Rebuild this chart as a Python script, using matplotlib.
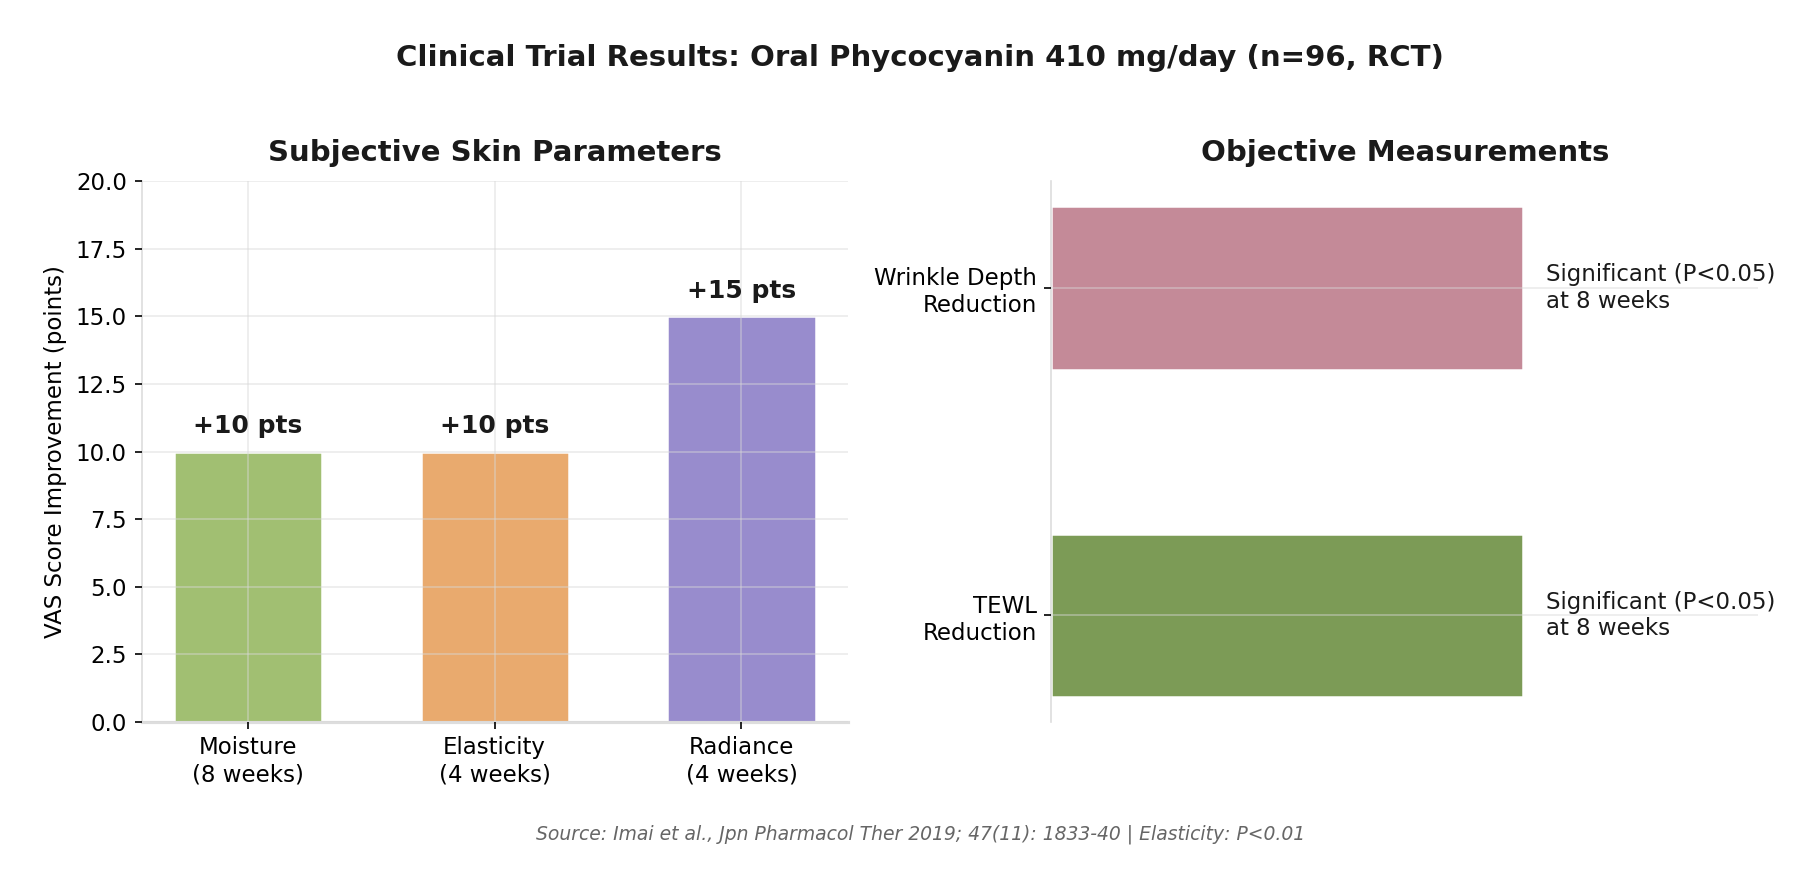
import matplotlib
matplotlib.use("Agg")
import matplotlib.pyplot as plt

# Data
left_categories = ["Moisture\n(8 weeks)", "Elasticity\n(4 weeks)", "Radiance\n(4 weeks)"]
left_values = [10, 10, 15]
left_labels = ["+10 pts", "+10 pts", "+15 pts"]
left_colors = ["#a1bf72", "#e9aa6e", "#988ccd"]

right_categories = ["TEWL\nReduction", "Wrinkle Depth\nReduction"]
right_values = [1, 1]
right_notes = ["Significant (P<0.05)\nat 8 weeks", "Significant (P<0.05)\nat 8 weeks"]
right_colors = ["#7c9b56", "#c48a98"]

suptitle = "Clinical Trial Results: Oral Phycocyanin 410 mg/day (n=96, RCT)"
source = "Source: Imai et al., Jpn Pharmacol Ther 2019; 47(11): 1833-40 | Elasticity: P<0.01"

plt.rcParams['font.family'] = ['DejaVu Sans']
fig = plt.figure(figsize=(18.19 / 1.5, 8.89 / 1.5), dpi=150)

ax1 = fig.add_axes([0.0778, 0.188, 0.466 - 0.0778, 0.796 - 0.188])
ax2 = fig.add_axes([0.578, 0.188, 0.9665 - 0.578, 0.796 - 0.188])

grid_kw = dict(color="#d8d8d8", alpha=0.5, linewidth=0.8)

# Left chart
x = range(len(left_categories))
ax1.bar(x, left_values, width=0.6, color=left_colors, edgecolor="white",
        linewidth=1.2, zorder=1)
for xi, v, lab in zip(x, left_values, left_labels):
    ax1.text(xi, v + 0.5, lab, ha="center", va="bottom", fontsize=12,
             fontweight="bold", color="#1a1a1a", zorder=3)
ax1.set_xticks(list(x))
ax1.set_xticklabels(left_categories, fontsize=11)
ax1.set_ylim(0, 20)
ax1.set_yticks([0, 2.5, 5, 7.5, 10, 12.5, 15, 17.5, 20])
ax1.tick_params(axis="y", labelsize=11)
ax1.set_ylabel("VAS Score Improvement (points)", fontsize=11)
ax1.set_title("Subjective Skin Parameters", fontsize=14, fontweight="bold",
              color="#1a1a1a", pad=10)
ax1.set_axisbelow(False)
ax1.grid(True, **grid_kw)
for s in ["top", "right"]:
    ax1.spines[s].set_visible(False)
for s in ["left", "bottom"]:
    ax1.spines[s].set_color("#dddddd")
ax1.spines["bottom"].set_linewidth(1.5)

# Right chart
y = range(len(right_categories))
ax2.barh(y, right_values, height=0.5, color=right_colors, edgecolor="white",
         linewidth=1.2, zorder=1)
for yi, v, note in zip(y, right_values, right_notes):
    ax2.text(v + 0.05, yi, note, ha="left", va="center", fontsize=11,
             color="#1a1a1a", zorder=3)
ax2.set_yticks(list(y))
ax2.set_yticklabels(right_categories, fontsize=11)
ax2.set_xlim(0, 1.5)
ax2.set_xticks([])
ax2.set_title("Objective Measurements", fontsize=14, fontweight="bold",
              color="#1a1a1a", pad=10)
ax2.set_axisbelow(False)
ax2.grid(True, axis="y", **grid_kw)
for s in ["top", "right", "bottom"]:
    ax2.spines[s].set_visible(False)
ax2.spines["left"].set_color("#dddddd")

fig.text(0.506, 0.935, suptitle, ha="center", va="center", fontsize=14,
         fontweight="bold", color="#1a1a1a")
fig.text(0.506, 0.062, source, ha="center", va="center", fontsize=9,
         style="italic", color="#666666")

fig.savefig("out.png", dpi=150)
